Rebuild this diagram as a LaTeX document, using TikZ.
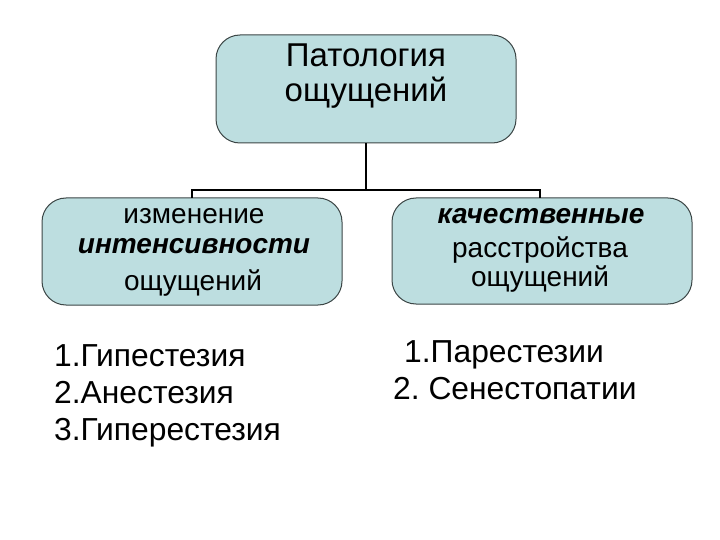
\documentclass[tikz,border=0pt]{standalone}
\usepackage{fontspec}
\setmainfont{Liberation Sans}
\definecolor{boxfill}{RGB}{189,222,224}
\definecolor{boxline}{RGB}{60,70,70}
\begin{document}
\begin{tikzpicture}[x=1pt,y=-1pt,
  box/.style={draw=boxline,line width=1pt,fill=boxfill,rounded corners=24pt,inner sep=0pt},
  conn/.style={line width=2.8pt,black},
  big/.style={font=\fontsize{33}{37}\selectfont,inner sep=0pt,anchor=base},
  mid/.style={font=\fontsize{28}{32}\selectfont,inner sep=0pt,anchor=base},
  lst/.style={font=\fontsize{31.8}{37}\selectfont,inner sep=0pt,anchor=base west}]
\useasboundingbox (0,0) rectangle (720,540);
\fill[white] (0,0) rectangle (720,540);
\node[box,minimum width=300pt,minimum height=108pt] (top) at (366,89) {};
\node[box,minimum width=300pt,minimum height=107pt] (left) at (192,251.5) {};
\node[box,minimum width=300pt,minimum height=106pt] (right) at (542,251) {};
\coordinate (bus) at (366,190);
\draw[conn] (top.south) -- (top.south |- bus);
\draw[conn] (192,198) -- (192,190) -- (540,190) -- (540,198);
% texts
\node[big] (t1) at (366,67) {Патология};
\node[big] (t2) at (366,102) {ощущений};
\node[mid] (l1) at (194,223) {изменение};
\node[mid] (l2) at (194,253) {\textbf{\textit{интенсивности}}};
\node[mid] (l3) at (193,290) {ощущений};
\node[mid] (r1) at (541,223) {\textbf{\textit{качественные}}};
\node[mid] (r2) at (540,257) {расстройства};
\node[mid] (r3) at (540,286) {ощущений};
\node[lst] (a1) at (54,366) {1.Гипестезия};
\node[lst] (a2) at (54,403) {2.Анестезия};
\node[lst] (a3) at (54,440) {3.Гиперестезия};
\node[lst] (b1) at (404,362) {1.Парестезии};
\node[lst] (b2) at (393,399) {2.\ Сенестопатии};
\end{tikzpicture}
\end{document}
